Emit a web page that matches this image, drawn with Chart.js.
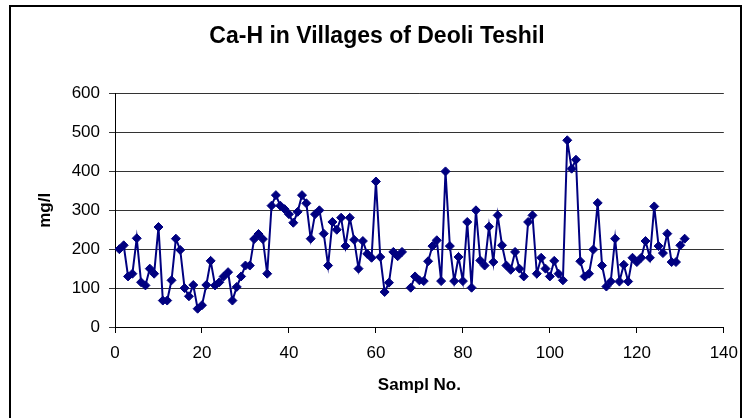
<!DOCTYPE html>
<html>
<head>
<meta charset="utf-8">
<script src="https://cdn.jsdelivr.net/npm/chart.js@4.4.0/dist/chart.umd.min.js"></script>
<style>
html, body { margin: 0; padding: 0; background: #fff; }
</style>
</head>
<body>
<canvas id="graficoCaH" width="748" height="418"></canvas>
<script>
// Ca-H por muestra (mg/l)
const sampleNo = [
    1, 2, 3, 4, 5, 6, 7, 8, 9, 10, 11, 12, 13, 14, 15, 16, 17, 18, 19, 20,
    21, 22, 23, 24, 25, 26, 27, 28, 29, 30, 31, 32, 33, 34, 35, 36, 37, 38, 39, 40,
    41, 42, 43, 44, 45, 46, 47, 48, 49, 50, 51, 52, 53, 54, 55, 56, 57, 58, 59, 60,
    61, 62, 63, 64, 65, 66, 67, 68, 69, 70, 71, 72, 73, 74, 75, 76, 77, 78, 79, 80,
    81, 82, 83, 84, 85, 86, 87, 88, 89, 90, 91, 92, 93, 94, 95, 96, 97, 98, 99, 100,
    101, 102, 103, 104, 105, 106, 107, 108, 109, 110, 111, 112, 113, 114, 115, 116, 117, 118, 119, 120,
    121, 122, 123, 124, 125, 126, 127, 128, 129, 130, 131
];
const caH = [
    200, 210, 130, 137, 228, 115, 107, 150, 137, 257, 68, 68, 120, 227, 198, 100, 79, 108, 47, 56,
    108, 170, 107, 115, 130, 141, 68, 103, 130, 158, 158, 226, 239, 226, 137, 312, 339, 312, 303, 290,
    268, 296, 339, 318, 227, 290, 300, 240, 158, 270, 250, 281, 208, 281, 224, 150, 221, 188, 178, 374,
    180, 90, 114, 193, 182, 193, null, 101, 130, 120, 118, 169, 208, 223, 118, 400, 208, 118, 180, 118,
    270, 101, 300, 171, 158, 258, 167, 287, 210, 158, 147, 193, 150, 130, 270, 287, 137, 178, 150, 130,
    170, 137, 120, 480, 407, 430, 169, 130, 137, 199, 319, 158, 104, 117, 227, 117, 160, 117, 178, 167,
    178, 221, 178, 310, 208, 190, 240, 167, 167, 210, 227
];
const xTicks = { min: 0, max: 140, step: 20 };
const yTicks = { min: 0, max: 600, step: 100 };

const fuente = "'Liberation Sans', Arial, sans-serif";

const marco = {
    id: 'marco',
    afterDraw(chart) {
        const ctx = chart.ctx;
        ctx.save();
        ctx.strokeStyle = '#000';
        ctx.lineWidth = 2;
        ctx.strokeRect(10, 6, 731, 440);
        ctx.restore();
    }
};

const ctx = document.getElementById('graficoCaH').getContext('2d');
new Chart(ctx, {
    type: 'line',
    data: {
        datasets: [{
            label: 'Ca-H',
            data: sampleNo.map((n, i) => ({ x: n, y: caH[i] })),
            borderColor: '#000080',
            backgroundColor: '#000080',
            borderWidth: 2,
            tension: 0,
            pointStyle: 'rectRot',
            pointRadius: 4.5,
            pointBorderWidth: 1,
            spanGaps: false
        }]
    },
    options: {
        responsive: false,
        animation: false,
        devicePixelRatio: 1,
        layout: { padding: { left: 30, right: 24, top: 0, bottom: 16 } },
        plugins: {
            legend: { display: false },
            tooltip: { enabled: false },
            title: {
                display: true,
                text: 'Ca-H in Villages of Deoli Teshil',
                color: '#000',
                font: { family: fuente, size: 23, weight: 'bold' },
                padding: { top: 23, bottom: 43 }
            }
        },
        scales: {
            x: {
                type: 'linear',
                min: xTicks.min,
                max: xTicks.max,
                ticks: { stepSize: xTicks.step, color: '#000', padding: 10, font: { family: fuente, size: 17 } },
                grid: { drawOnChartArea: false, drawTicks: true, tickLength: 6, color: '#000' },
                border: { display: true, color: '#000', width: 1 },
                title: {
                    display: true,
                    text: 'Sampl No.',
                    color: '#000',
                    font: { family: fuente, size: 17, weight: 'bold' },
                    padding: { top: 0, bottom: 6 }
                },
                afterFit(scale) { scale.height = 75; }
            },
            y: {
                min: yTicks.min,
                max: yTicks.max,
                ticks: { stepSize: yTicks.step, color: '#000', padding: 9, font: { family: fuente, size: 17 } },
                grid: { drawOnChartArea: true, drawTicks: true, tickLength: 6, color: '#333' },
                border: { display: true, color: '#000', width: 1 },
                title: {
                    display: true,
                    text: 'mg/l',
                    color: '#000',
                    font: { family: fuente, size: 17, weight: 'bold' },
                    padding: { top: 5, bottom: 0 }
                },
                afterFit(scale) { scale.width = 85; }
            }
        }
    },
    plugins: [marco]
});
</script>
</body>
</html>
